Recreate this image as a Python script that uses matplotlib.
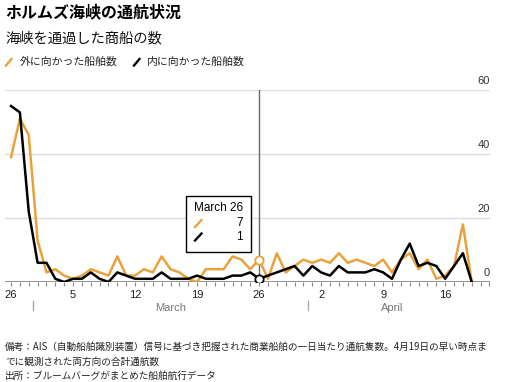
import matplotlib
matplotlib.use("Agg")
import matplotlib.pyplot as plt
import matplotlib.dates as mdates
import numpy as np
import pandas as pd
from matplotlib.lines import Line2D
from matplotlib.patches import Rectangle
from matplotlib.transforms import blended_transform_factory

W, H = 514, 382
JP = ["Noto Sans CJK JP", "DejaVu Sans"]
LAT = ["Liberation Sans", "DejaVu Sans"]
ORANGE = "#E9A23B"
BLACK = "#000000"

dates = pd.date_range("2026-02-26", "2026-04-19", freq="D")
outbound = [39, 51, 46, 13, 3, 4, 2, 1, 2, 4, 3, 2, 8, 2, 2, 4, 3, 8, 4, 3,
            1, 0, 4, 4, 4, 8, 7, 4, 7, 1, 9, 3, 5, 7, 6, 7, 6, 9, 6, 7,
            6, 5, 7, 3, 7, 9, 4, 7, 1, 2, 5, 18, 0]
inbound = [55, 53, 22, 6, 6, 1, 0, 1, 1, 3, 1, 0, 3, 2, 1, 1, 1, 3, 1, 1,
           1, 2, 1, 1, 1, 2, 2, 3, 1, 2, 3, 4, 5, 2, 5, 3, 2, 5, 3, 3,
           3, 4, 3, 1, 7, 12, 5, 6, 5, 1, 5, 9, 0]
y_ticks = [0, 20, 40, 60]
x_ticks = pd.to_datetime(["2026-02-26", "2026-03-05", "2026-03-12", "2026-03-19",
                          "2026-03-26", "2026-04-02", "2026-04-09", "2026-04-16"])
x_tick_labels = ["26", "5", "12", "19", "26", "2", "9", "16"]
hover_date = pd.Timestamp("2026-03-26")

TITLE = "ホルムズ海峡の通航状況"
SUBTITLE = "海峡を通過した商船の数"
LEG_OUT = "外に向かった船舶数"
LEG_IN = "内に向かった船舶数"
NOTES = ["備考：AIS（自動船舶識別装置）信号に基づき把握された商業船舶の一日当たり通航隻数。4月19日の早い時点ま",
         "でに観測された両方向の合計通航数",
         "出所：ブルームバーグがまとめた船舶航行データ"]


def fx(px):
    return px / W


def fy(py):
    return 1 - py / H


fig = plt.figure(figsize=(W / 100, H / 100), dpi=100)
ax = fig.add_axes([fx(5), fy(282), fx(485), 192 / H])

d0 = mdates.date2num(dates[0])
ax.set_xlim(d0 - 0.68, d0 + 54.06)
ax.set_ylim(0, 60)
for s in ax.spines.values():
    s.set_visible(False)

for v in y_ticks[1:]:
    ax.axhline(v, color="#dddddd", lw=1, zorder=0)
ax.axhline(0, color="#888888", lw=1.3, zorder=1)

ax.axvline(hover_date, color="#666666", lw=1, zorder=2)
ax.plot(dates, outbound, color=ORANGE, lw=1.8, zorder=3)
ax.plot(dates, inbound, color=BLACK, lw=1.8, zorder=4)

hi = list(dates).index(hover_date)
ax.plot([hover_date], [outbound[hi]], "o", ms=6, mfc="white", mec=ORANGE, mew=1.3, zorder=5)
ax.plot([hover_date], [inbound[hi]], "o", ms=6, mfc="white", mec=BLACK, mew=1.3, zorder=5)

# y labels sit just above each gridline on the right
tr = blended_transform_factory(ax.transAxes, ax.transData)
for v in y_ticks:
    ax.text(1.0, v + 1.2, str(v), transform=tr, ha="right", va="bottom",
            fontsize=8, color="#333333", family=LAT)
ax.set_yticks([])

ax.set_xticks(x_ticks)
ax.set_xticklabels(x_tick_labels, fontsize=8, color="#222222", family=LAT)
ax.xaxis.set_minor_locator(mdates.DayLocator())
ax.tick_params(axis="x", which="both", length=3, width=0.8, color="#888888", pad=3)

# month labels and separators
trx = blended_transform_factory(ax.transData, ax.transAxes)
for m in ["2026-03-01", "2026-04-01"]:
    xm = mdates.date2num(pd.Timestamp(m)) - 0.5
    ax.plot([xm, xm], [-0.10, -0.145], color="#aaaaaa", lw=1, transform=trx, clip_on=False)
mar_mid = (mdates.date2num(pd.Timestamp("2026-03-01")) + mdates.date2num(pd.Timestamp("2026-04-01"))) / 2 - 0.5
apr_mid = (mdates.date2num(pd.Timestamp("2026-04-01")) + mdates.date2num(dates[-1])) / 2
ax.text(mar_mid, -0.135, "March", transform=trx, ha="center", va="center",
        fontsize=8, color="#777777", family=LAT)
ax.text(apr_mid, -0.135, "April", transform=trx, ha="center", va="center",
        fontsize=8, color="#777777", family=LAT)

# titles
fig.text(fx(5), fy(13), TITLE, fontsize=11.5, fontweight="bold", family=JP, va="center")
fig.text(fx(5), fy(38), SUBTITLE, fontsize=10.3, family=JP, va="center", color="#111111")

# legend
fig.add_artist(Line2D([fx(6), fx(11.5)], [fy(65.5), fy(59)], color=ORANGE, lw=1.7))
fig.text(fx(20), fy(61.5), LEG_OUT, fontsize=7.8, family=JP, va="center", color="#222222")
fig.add_artist(Line2D([fx(134), fx(139.5)], [fy(65.5), fy(59)], color=BLACK, lw=1.7))
fig.text(fx(147), fy(61.5), LEG_IN, fontsize=7.8, family=JP, va="center", color="#222222")

# tooltip
fig.add_artist(Rectangle((fx(186), fy(252)), fx(65), 56 / H, transform=fig.transFigure,
                         facecolor="white", edgecolor="black", lw=1, zorder=10))
fig.text(fx(194), fy(208), "March 26", fontsize=8.5, family=LAT, va="center", zorder=11)
fig.add_artist(Line2D([fx(195), fx(201.5)], [fy(227), fy(220)], color=ORANGE, lw=1.7, zorder=11))
fig.add_artist(Line2D([fx(195), fx(201.5)], [fy(240.5), fy(233.5)], color=BLACK, lw=1.7, zorder=11))
fig.text(fx(243), fy(223), str(outbound[hi]), fontsize=8.5, family=LAT, ha="right", va="center", zorder=11)
fig.text(fx(243), fy(236.5), str(inbound[hi]), fontsize=8.5, family=LAT, ha="right", va="center", zorder=11)

# notes
for k, line in enumerate(NOTES):
    fig.text(fx(5), fy(347 + 14.5 * k), line, fontsize=6.95, family=JP, va="center", color="#222222")

fig.savefig("out.png", dpi=100)
